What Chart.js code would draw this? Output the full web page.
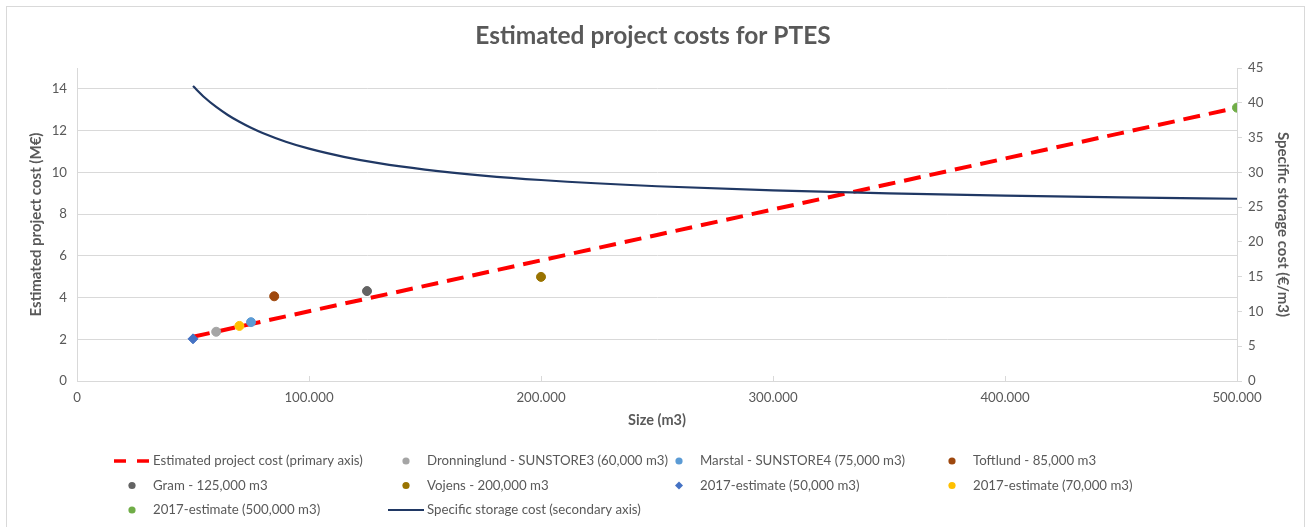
<!DOCTYPE html>
<html lang="en">

<head>
  <meta charset="UTF-8">
  <title>Estimated project costs for PTES</title>
  <script src="https://cdn.jsdelivr.net/npm/chart.js@4.4.1/dist/chart.umd.min.js"></script>
  <style>
    body { margin: 0; background: #fff; }
  </style>
</head>

<body>
  <canvas id="ptesChart" width="1306" height="527"></canvas>

<script>
  // size of the storage (m3) and cost
  const trendSizes = [50000, 100000, 150000, 200000, 250000, 300000, 350000, 400000, 450000, 500000];
  const trendCosts = [2.12, 3.34, 4.56, 5.78, 7.0, 8.22, 9.44, 10.66, 11.88, 13.1];

  const specSizes = [50000, 55000, 60000, 65000, 70000, 75000, 80000, 90000, 100000, 115000, 130000,
    150000, 175000, 200000, 250000, 300000, 350000, 400000, 450000, 500000];
  const specCosts = [42.4, 40.76, 39.4, 38.25, 37.26, 36.4, 35.65, 34.4, 33.4, 32.23, 31.32,
    30.4, 29.54, 28.9, 28.0, 27.4, 26.97, 26.65, 26.4, 26.2];

  // one point per plant / estimate
  const plantNames = [
    "Dronninglund - SUNSTORE3 (60,000 m3)",
    "Marstal - SUNSTORE4 (75,000 m3)",
    "Toftlund - 85,000 m3",
    "Gram - 125,000 m3",
    "Vojens - 200,000 m3",
    "2017-estimate (50,000 m3)",
    "2017-estimate (70,000 m3)",
    "2017-estimate (500,000 m3)"
  ];
  const plantSizes = [60000, 75000, 85000, 125000, 200000, 50000, 70000, 500000];
  const plantCosts = [2.36, 2.82, 4.06, 4.31, 4.99, 2.02, 2.64, 13.1];
  const plantColors = ["#a5a5a5", "#5b9bd5", "#9e480e", "#636363", "#997300", "#4472c4", "#ffc000", "#70ad47"];
  const plantShapes = ["circle", "circle", "circle", "circle", "circle", "rectRot", "circle", "circle"];

  const xTicks = [0, 100000, 200000, 300000, 400000, 500000];

  const grey = "#595959";
  const gridGrey = "#d9d9d9";
  const font = "Lato, 'DejaVu Sans', sans-serif";
  const tickSize = 13.25;
  const axisTitleSize = 14.5;

  const fmtThousands = v => String(v).replace(/\B(?=(\d{3})+(?!\d))/g, ".");

  const datasets = [{
    type: "line",
    label: "Estimated project cost (primary axis)",
    data: trendSizes.map((s, i) => ({ x: s, y: trendCosts[i] })),
    borderColor: "#ff0000",
    borderWidth: 4,
    borderDash: [17, 9],
    pointRadius: 0,
    yAxisID: "y",
    order: 2
  }];
  plantNames.forEach((name, i) => {
    datasets.push({
      type: "scatter",
      label: name,
      data: [{ x: plantSizes[i], y: plantCosts[i] }],
      backgroundColor: plantColors[i],
      borderColor: plantColors[i],
      pointStyle: plantShapes[i],
      pointRadius: plantShapes[i] === "rectRot" ? 5 : 4.5,
      yAxisID: "y",
      order: 0
    });
  });
  datasets.push({
    type: "line",
    label: "Specific storage cost (secondary axis)",
    data: specSizes.map((s, i) => ({ x: s, y: specCosts[i] })),
    borderColor: "#203864",
    borderWidth: 2.2,
    pointRadius: 0,
    cubicInterpolationMode: "monotone",
    yAxisID: "y1",
    order: 1
  });

  // legend in four fixed columns, like the original
  const gridLegend = {
    id: "gridLegend",
    beforeDraw(chart) {
      const ctx = chart.ctx;
      ctx.save();
      ctx.strokeStyle = gridGrey;
      ctx.lineWidth = 1;
      ctx.strokeRect(6.5, 6.5, 1298, 540);
      ctx.restore();
    },
    afterDraw(chart) {
      const ctx = chart.ctx;
      const colX = [153, 427, 700, 973];
      const rowY = [461, 485.5, 510];
      ctx.save();
      ctx.font = tickSize + "px " + font;
      ctx.textBaseline = "middle";
      chart.data.datasets.forEach((ds, i) => {
        const tx = colX[i % 4];
        const ty = rowY[Math.floor(i / 4)];
        if (ds.type === "line") {
          ctx.strokeStyle = ds.borderColor;
          ctx.lineWidth = ds.borderDash ? 3.5 : 2;
          ctx.setLineDash(ds.borderDash ? [12, 11] : []);
          ctx.beginPath();
          ctx.moveTo(tx - 39, ty);
          ctx.lineTo(tx - 3, ty);
          ctx.stroke();
          ctx.setLineDash([]);
        } else {
          ctx.fillStyle = ds.backgroundColor;
          const cx = tx - 21;
          ctx.beginPath();
          if (ds.pointStyle === "rectRot") {
            ctx.moveTo(cx, ty - 4); ctx.lineTo(cx + 4, ty); ctx.lineTo(cx, ty + 4); ctx.lineTo(cx - 4, ty);
            ctx.closePath();
          } else {
            ctx.arc(cx, ty, 3.6, 0, Math.PI * 2);
          }
          ctx.fill();
        }
        ctx.fillStyle = grey;
        ctx.fillText(ds.label, tx, ty);
      });
      ctx.restore();
    }
  };

  new Chart(document.getElementById("ptesChart"), {
    type: "scatter",
    data: { datasets: datasets },
    plugins: [gridLegend],
    options: {
      responsive: false,
      animation: false,
      events: [],
      layout: { padding: { left: 0, right: 0, top: 0, bottom: 97 } },
      plugins: {
        legend: { display: false },
        tooltip: { enabled: false },
        title: {
          display: true,
          text: "Estimated project costs for PTES",
          color: grey,
          font: { family: font, size: 24.5, weight: "bold", lineHeight: 1.2 },
          padding: { top: 21.3, bottom: 17.3 }
        }
      },
      scales: {
        x: {
          type: "linear",
          min: 0,
          max: 500000,
          afterBuildTicks: s => { s.ticks = xTicks.map(v => ({ value: v })); },
          afterFit: s => { s.height = 49; },
          ticks: { color: grey, font: { family: font, size: tickSize }, padding: 14, callback: fmtThousands, maxRotation: 0 },
          grid: { drawOnChartArea: false, drawTicks: true, tickLength: -5, color: gridGrey },
          border: { color: gridGrey },
          title: { display: true, text: "Size (m3)", color: grey, font: { family: font, size: axisTitleSize, weight: "bold" }, padding: { top: 0, bottom: 1 } }
        },
        y: {
          position: "left",
          min: 0,
          max: 15,
          afterFit: s => { s.width = 77; },
          ticks: { stepSize: 2, includeBounds: false, color: grey, font: { family: font, size: tickSize }, padding: 10 },
          grid: { color: gridGrey, drawTicks: false },
          border: { color: gridGrey },
          title: { display: true, text: "Estimated project cost (M€)", color: grey, font: { family: font, size: 15, weight: "bold" }, padding: { top: 27, bottom: 0 } }
        },
        y1: {
          position: "right",
          min: 0,
          max: 45,
          afterFit: s => { s.width = 69; },
          ticks: { stepSize: 5, color: grey, font: { family: font, size: tickSize }, padding: 6 },
          grid: { drawOnChartArea: false, color: gridGrey, tickLength: 5 },
          border: { color: gridGrey },
          title: { display: true, text: "Specific storage cost (€/m3)", color: grey, font: { family: font, size: 15, weight: "bold" }, padding: { top: 14, bottom: 0 } }
        }
      }
    }
  });
</script>
</body>

</html>
